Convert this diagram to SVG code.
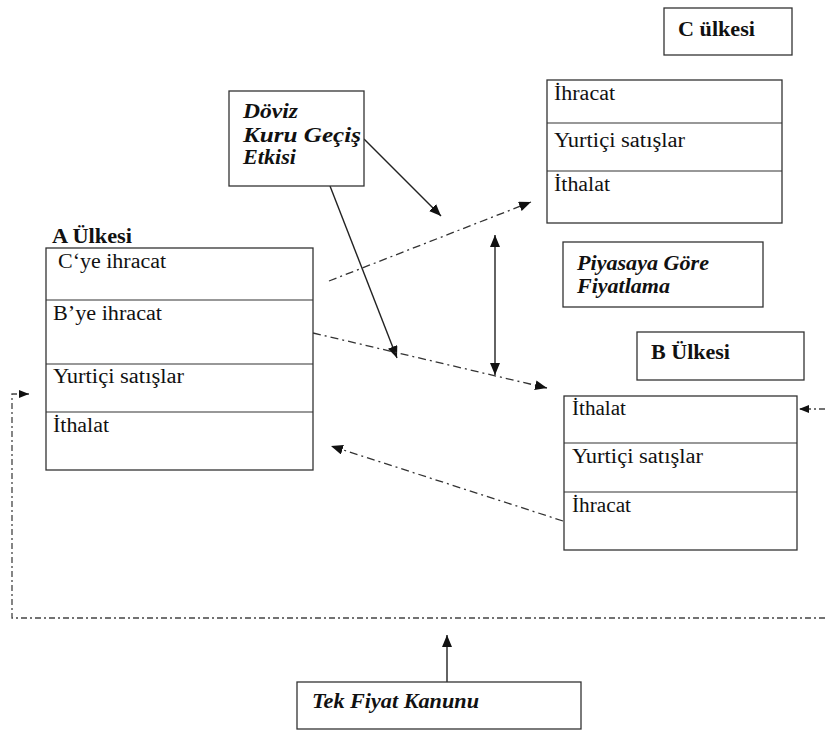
<svg xmlns="http://www.w3.org/2000/svg" width="825" height="731" viewBox="0 0 825 731">
<style>
.box{fill:#fff;stroke:#333;stroke-width:1.3}
.div{stroke:#333;stroke-width:1.2}
text{font-family:'Liberation Serif','Times New Roman',serif;font-size:20px;fill:#111}
.b{font-weight:bold}
.bi{font-weight:bold;font-style:italic}
.arr{stroke:#222;stroke-width:1.4;fill:none}
.dd{stroke:#333;stroke-width:1.3;fill:none;stroke-dasharray:8 4 2 4}
.db{stroke:#444;stroke-width:1.3;fill:none;stroke-dasharray:6 3 2 3}
</style>
<defs>
<marker id="ah" markerUnits="userSpaceOnUse" markerWidth="12" markerHeight="10" viewBox="0 0 12 10" refX="12" refY="5" orient="auto-start-reverse">
<path d="M0,0 L12,5 L0,10 Z" fill="#111"/>
</marker>
<marker id="ahs" markerUnits="userSpaceOnUse" markerWidth="10" markerHeight="8" viewBox="0 0 10 8" refX="10" refY="4" orient="auto">
<path d="M0,0 L10,4 L0,8 Z" fill="#111"/>
</marker>
</defs>

<g id="connectors">
<line class="arr" x1="364" y1="139" x2="441" y2="216" marker-end="url(#ah)"/>
<line class="arr" x1="330" y1="186" x2="397" y2="358" marker-end="url(#ah)"/>
<line class="arr" x1="495" y1="235" x2="495" y2="375" marker-start="url(#ah)" marker-end="url(#ah)"/>
<line class="dd" x1="329" y1="281" x2="531" y2="202" marker-end="url(#ah)"/>
<line class="dd" x1="313" y1="333" x2="547" y2="388" marker-end="url(#ah)"/>
<line class="dd" x1="563" y1="521" x2="331" y2="446" marker-end="url(#ah)"/>
<line class="db" x1="825" y1="409" x2="799" y2="409" marker-end="url(#ahs)"/>
<path class="db" d="M825,618 H12 V394 H29" marker-end="url(#ahs)"/>
<line class="arr" x1="447" y1="682" x2="447" y2="635" marker-end="url(#ah)"/>
</g>

<g id="c-ulkesi">
<rect class="box" x="664" y="8" width="128" height="47"/>
<text class="b" x="678" y="36" textLength="77" lengthAdjust="spacingAndGlyphs">C ülkesi</text>
</g>

<g id="c-table">
<rect class="box" x="547" y="80" width="235" height="143"/>
<line class="div" x1="547" y1="123" x2="782" y2="123"/>
<line class="div" x1="547" y1="171" x2="782" y2="171"/>
<text x="554" y="100" textLength="61" lengthAdjust="spacingAndGlyphs">İhracat</text>
<text x="554" y="147" textLength="131" lengthAdjust="spacingAndGlyphs">Yurtiçi satışlar</text>
<text x="554" y="191" textLength="56" lengthAdjust="spacingAndGlyphs">İthalat</text>
</g>

<g id="doviz">
<rect class="box" x="229" y="91" width="135" height="95"/>
<text class="bi" x="243" y="118" textLength="55" lengthAdjust="spacingAndGlyphs">Döviz</text>
<text class="bi" x="243" y="142" textLength="118" lengthAdjust="spacingAndGlyphs">Kuru Geçiş</text>
<text class="bi" x="243" y="164" textLength="53" lengthAdjust="spacingAndGlyphs">Etkisi</text>
</g>

<g id="a-ulkesi">
<text class="b" x="52" y="243" textLength="80" lengthAdjust="spacingAndGlyphs">A Ülkesi</text>
<rect class="box" x="46" y="248" width="267" height="222"/>
<line class="div" x1="46" y1="300" x2="313" y2="300"/>
<line class="div" x1="46" y1="364" x2="313" y2="364"/>
<line class="div" x1="46" y1="412" x2="313" y2="412"/>
<text x="58" y="268" textLength="108" lengthAdjust="spacingAndGlyphs">C‘ye ihracat</text>
<text x="53" y="320" textLength="109" lengthAdjust="spacingAndGlyphs">B’ye ihracat</text>
<text x="53" y="383" textLength="131" lengthAdjust="spacingAndGlyphs">Yurtiçi satışlar</text>
<text x="53" y="432" textLength="56" lengthAdjust="spacingAndGlyphs">İthalat</text>
</g>

<g id="piyasaya">
<rect class="box" x="563" y="242" width="200" height="65"/>
<text class="bi" x="577" y="270" textLength="132" lengthAdjust="spacingAndGlyphs">Piyasaya Göre</text>
<text class="bi" x="577" y="293" textLength="93" lengthAdjust="spacingAndGlyphs">Fiyatlama</text>
</g>

<g id="b-ulkesi">
<rect class="box" x="637" y="332" width="167" height="48"/>
<text class="b" x="651" y="359" textLength="79" lengthAdjust="spacingAndGlyphs">B Ülkesi</text>
</g>

<g id="b-table">
<rect class="box" x="564" y="396" width="233" height="154"/>
<line class="div" x1="564" y1="443" x2="797" y2="443"/>
<line class="div" x1="564" y1="492" x2="797" y2="492"/>
<text x="572" y="415" textLength="54" lengthAdjust="spacingAndGlyphs">İthalat</text>
<text x="572" y="463" textLength="131" lengthAdjust="spacingAndGlyphs">Yurtiçi satışlar</text>
<text x="572" y="512" textLength="59" lengthAdjust="spacingAndGlyphs">İhracat</text>
</g>

<g id="tek-fiyat">
<rect class="box" x="297" y="682" width="284" height="47"/>
<text class="bi" x="312" y="708" textLength="167" lengthAdjust="spacingAndGlyphs">Tek Fiyat Kanunu</text>
</g>
</svg>
